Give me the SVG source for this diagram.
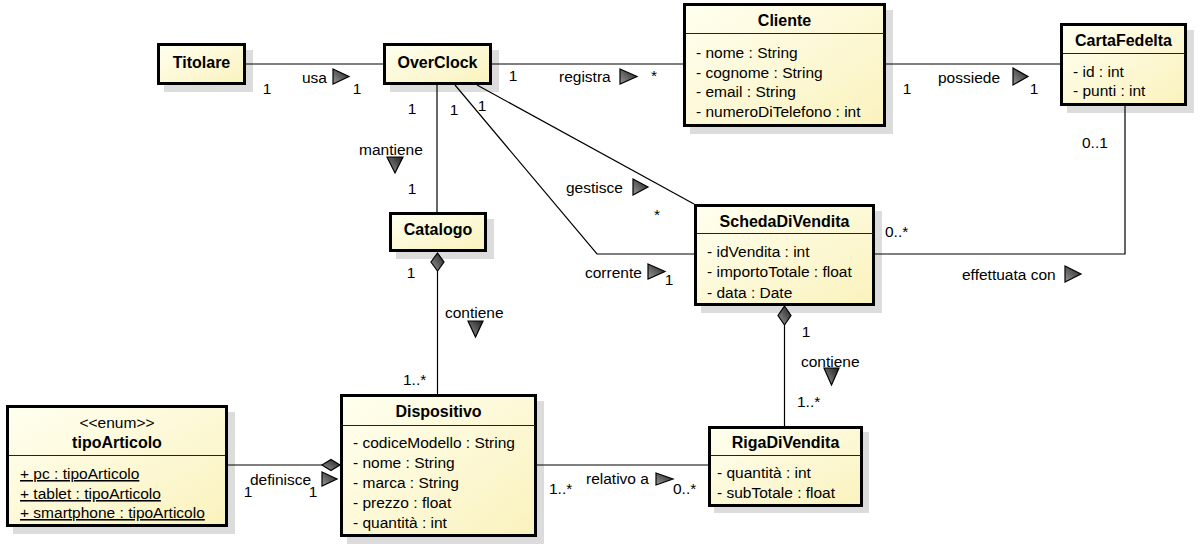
<svg xmlns="http://www.w3.org/2000/svg" width="1200" height="551" viewBox="0 0 1200 551">
<defs>
<linearGradient id="fillG" x1="0" y1="0" x2="1" y2="1">
<stop offset="0" stop-color="#fffff0"/>
<stop offset="1" stop-color="#faf2bd"/>
</linearGradient>
<linearGradient id="arrG" x1="0" y1="1" x2="1" y2="0">
<stop offset="0" stop-color="#9a9a9a"/>
<stop offset="1" stop-color="#1e1e1e"/>
</linearGradient>
<style>
.sh{fill:#dcdcdc}
.box{fill:url(#fillG);stroke:#000;stroke-width:3}
.sep{stroke:#222;stroke-width:1}
text{font-family:"Liberation Sans",Arial,sans-serif;font-size:15.5px;fill:#000}
.ti{font-weight:bold;font-size:16px;text-anchor:middle}
.m{text-anchor:middle}
.u{text-decoration:underline}
.ln{stroke:#000;stroke-width:1.2;fill:none}
.ar{fill:url(#arrG);stroke:#000;stroke-width:1.2}
</style>
</defs>

<g id="Titolare">
<rect class="sh" x="164" y="50" width="89" height="42"/>
<rect class="box" x="158.5" y="44.5" width="86" height="39"/>
<text class="ti" x="201.5" y="68">Titolare</text>
</g>

<g id="OverClock">
<rect class="sh" x="390" y="50" width="109" height="42"/>
<rect class="box" x="384.5" y="44.5" width="106" height="39"/>
<text class="ti" x="437.5" y="68">OverClock</text>
</g>

<g id="Cliente">
<rect class="sh" x="690" y="10" width="203" height="124"/>
<rect class="box" x="684.5" y="4.5" width="200" height="121"/>
<line class="sep" x1="686" y1="33.5" x2="884" y2="33.5"/>
<text class="ti" x="784.5" y="26">Cliente</text>
<text x="696" y="58">- nome : String</text>
<text x="696" y="78">- cognome : String</text>
<text x="696" y="97">- email : String</text>
<text x="696" y="117">- numeroDiTelefono : int</text>
</g>

<g id="CartaFedelta">
<rect class="sh" x="1067" y="30" width="127" height="83"/>
<rect class="box" x="1061.5" y="24.5" width="124" height="80"/>
<line class="sep" x1="1063" y1="53.5" x2="1185" y2="53.5"/>
<text class="ti" x="1123.5" y="46">CartaFedelta</text>
<text x="1073" y="77">- id : int</text>
<text x="1073" y="96">- punti : int</text>
</g>

<g id="Catalogo">
<rect class="sh" x="396" y="219" width="98" height="40"/>
<rect class="box" x="390.5" y="213.5" width="95" height="37"/>
<text class="ti" x="438" y="235">Catalogo</text>
</g>

<g id="SchedaDiVendita">
<rect class="sh" x="701" y="211" width="181" height="102"/>
<rect class="box" x="695.5" y="205.5" width="178" height="99"/>
<line class="sep" x1="697" y1="233.5" x2="873" y2="233.5"/>
<text class="ti" x="784.5" y="227">SchedaDiVendita</text>
<text x="707" y="257">- idVendita : int</text>
<text x="707" y="277">- importoTotale : float</text>
<text x="707" y="298">- data : Date</text>
</g>

<g id="Dispositivo">
<rect class="sh" x="347" y="401" width="197" height="143"/>
<rect class="box" x="341.5" y="395.5" width="194" height="140"/>
<line class="sep" x1="343" y1="425.5" x2="535" y2="425.5"/>
<text class="ti" x="438.5" y="417">Dispositivo</text>
<text x="353" y="448">- codiceModello : String</text>
<text x="353" y="468">- nome : String</text>
<text x="353" y="488">- marca : String</text>
<text x="353" y="508">- prezzo : float</text>
<text x="353" y="528">- quantità : int</text>
</g>

<g id="RigaDiVendita">
<rect class="sh" x="714" y="432" width="155" height="81"/>
<rect class="box" x="709.5" y="427.5" width="152" height="78"/>
<line class="sep" x1="711" y1="455.5" x2="861" y2="455.5"/>
<text class="ti" x="785.5" y="448">RigaDiVendita</text>
<text x="717" y="478">- quantità : int</text>
<text x="717" y="498">- subTotale : float</text>
</g>

<g id="tipoArticolo">
<rect class="sh" x="13" y="412" width="222" height="122"/>
<rect class="box" x="7.5" y="406.5" width="219" height="119"/>
<line class="sep" x1="9" y1="455.5" x2="225" y2="455.5"/>
<text class="m" x="117" y="428">&lt;&lt;enum&gt;&gt;</text>
<text class="ti" x="117" y="448">tipoArticolo</text>
<text class="u" x="20" y="479">+ pc : tipoArticolo</text>
<text class="u" x="20" y="499">+ tablet : tipoArticolo</text>
<text class="u" x="20" y="518">+ smartphone : tipoArticolo</text>
</g>

<g id="connectors">
<line class="ln" x1="246" y1="64" x2="383" y2="64"/>
<text x="302" y="83">usa</text>
<polygon class="ar" points="333,69 349,76.5 333,84"/>
<text class="m" x="267" y="94">1</text>
<text class="m" x="357" y="94">1</text>

<line class="ln" x1="492" y1="64" x2="683" y2="64"/>
<text class="m" x="513" y="81">1</text>
<text x="559" y="82">registra</text>
<polygon class="ar" points="620,69 637,76.5 620,84"/>
<text class="m" x="654" y="81">*</text>

<line class="ln" x1="886" y1="64" x2="1060" y2="64"/>
<text class="m" x="907" y="94">1</text>
<text x="938" y="83">possiede</text>
<polygon class="ar" points="1013,68 1028,76.5 1013,85"/>
<text class="m" x="1034" y="94">1</text>

<line class="ln" x1="437" y1="85" x2="437" y2="212"/>
<text class="m" x="412" y="114">1</text>
<text x="359" y="155">mantiene</text>
<polygon class="ar" points="387,157 403,157 395,173"/>
<text class="m" x="412" y="194">1</text>

<line class="ln" x1="477" y1="85" x2="694" y2="204"/>
<text class="m" x="482" y="111">1</text>
<text x="566" y="193">gestisce</text>
<polygon class="ar" points="633,179 648,187 633,195"/>
<text class="m" x="657" y="220">*</text>

<polyline class="ln" points="455,85 597,254 694,254"/>
<text class="m" x="454" y="115">1</text>
<text x="585" y="278">corrente</text>
<polygon class="ar" points="648,264 665,271.5 648,279"/>
<text class="m" x="669" y="285">1</text>

<polyline class="ln" points="1125,106 1125,254 875,254"/>
<text x="1082" y="148">0..1</text>
<text x="885" y="237">0..*</text>
<text x="962" y="280">effettuata con</text>
<polygon class="ar" points="1065,266 1081,274 1065,282"/>

<polygon class="ar" points="437.5,253 444,262 437.5,271 431,262"/>
<line class="ln" x1="437.5" y1="271" x2="437.5" y2="394"/>
<text class="m" x="411" y="278">1</text>
<text x="445" y="318">contiene</text>
<polygon class="ar" points="468,321 483,321 475.5,337"/>
<text x="403" y="385">1..*</text>

<polygon class="ar" points="784.5,306 791,315.5 784.5,325 778,315.5"/>
<line class="ln" x1="784.5" y1="325" x2="784.5" y2="426"/>
<text class="m" x="806" y="337">1</text>
<text x="801" y="367">contiene</text>
<polygon class="ar" points="824,368 839,368 831.5,385"/>
<text x="797" y="407">1..*</text>

<line class="ln" x1="228" y1="465" x2="322" y2="465"/>
<polygon class="ar" points="322,465 331,459.5 340,465 331,470.5"/>
<text x="250" y="485">definisce</text>
<polygon class="ar" points="322,472 337,479 322,486"/>
<text class="m" x="248" y="497">1</text>
<text class="m" x="313" y="497">1</text>

<line class="ln" x1="537" y1="465" x2="708" y2="465"/>
<text x="549" y="494">1..*</text>
<text x="586" y="484">relativo a</text>
<polygon class="ar" points="656,473 673,479 656,485"/>
<text x="673" y="494">0..*</text>
</g>
</svg>
